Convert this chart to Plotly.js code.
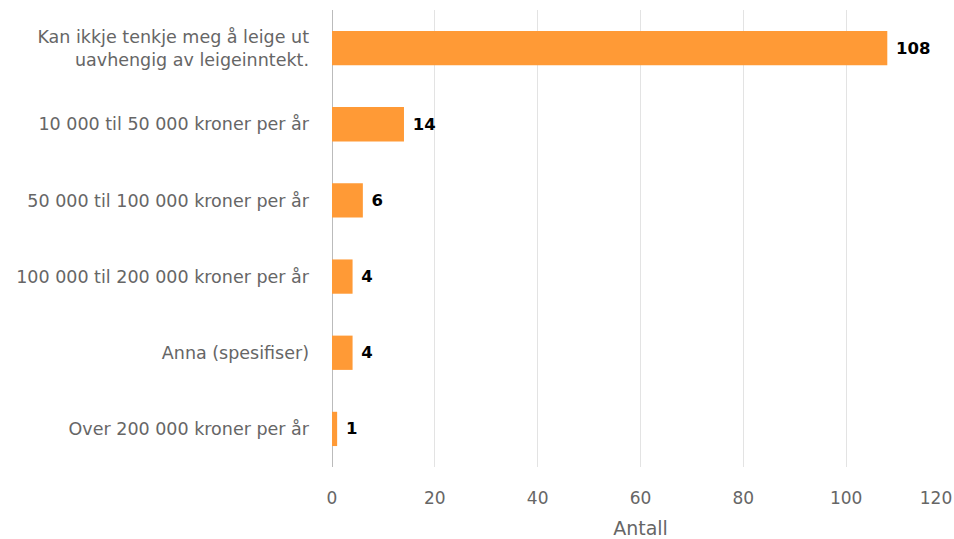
<!DOCTYPE html>
<html>
<head>
<meta charset="utf-8">
<script src="https://cdn.plot.ly/plotly-3.0.1.min.js"></script>
<style>html,body{margin:0;padding:0;background:#fff;}#chart{width:954px;height:539px;}</style>
</head>
<body>
<div id="chart"></div>
<script>
const categories = [
  "Kan ikkje tenkje meg å leige ut<br>uavhengig av leigeinntekt.",
  "10 000 til 50 000 kroner per år",
  "50 000 til 100 000 kroner per år",
  "100 000 til 200 000 kroner per år",
  "Anna (spesifiser)",
  "Over 200 000 kroner per år"
];
const values = [108, 14, 6, 4, 4, 1];
const xTicks = [0, 20, 40, 60, 80, 100];
const xLastTick = [120];
const xTitle = "Antall";

const trace = {
  type: 'bar',
  orientation: 'h',
  x: values,
  y: categories,
  marker: {color: '#ff9a36'},
  texttemplate: ' %{x}',
  textposition: 'outside',
  cliponaxis: false,
  textfont: {family: 'DejaVu Sans', size: 16.5, color: '#000', weight: 'bold'},
  hoverinfo: 'none'
};

const axisFont = {family: 'DejaVu Sans', size: 17, color: '#666'};

const layout = {
  width: 954, height: 539,
  margin: {l: 332, r: 5, t: 10, b: 72},
  paper_bgcolor: '#fff', plot_bgcolor: '#fff',
  bargap: 0.55,
  showlegend: false,
  font: {family: 'DejaVu Sans', color: '#666'},
  xaxis: {
    range: [0, 120],
    tickvals: xTicks.concat(xLastTick),
    ticktext: xTicks.map(String).concat(['']),
    showgrid: true, gridcolor: '#e3e3e3', gridwidth: 1,
    zeroline: true, zerolinecolor: '#bbbbbb', zerolinewidth: 1,
    showline: false,
    ticks: '',
    ticklabelstandoff: 19,
    tickfont: axisFont,
    title: {text: xTitle, font: {size: 19, color: '#666'}, standoff: 14},
    fixedrange: true
  },
  xaxis2: {
    overlaying: 'x',
    side: 'bottom',
    anchor: 'y',
    range: [0, 120],
    tickvals: xLastTick,
    ticktext: xLastTick.map(String),
    ticklabelshift: -13,
    ticklabelstandoff: 19,
    showgrid: false, zeroline: false, showline: false,
    ticks: '',
    tickfont: axisFont,
    fixedrange: true
  },
  yaxis: {
    autorange: 'reversed',
    ticks: '',
    ticklabelstandoff: 22,
    tickfont: {size: 17.5, color: '#666'},
    showgrid: false,
    fixedrange: true
  }
};

const dummy = {type: 'scatter', x: [], y: [], xaxis: 'x2', yaxis: 'y', hoverinfo: 'none', showlegend: false};

Plotly.newPlot('chart', [trace, dummy], layout, {displayModeBar: false, staticPlot: true});
</script>
</body>
</html>
